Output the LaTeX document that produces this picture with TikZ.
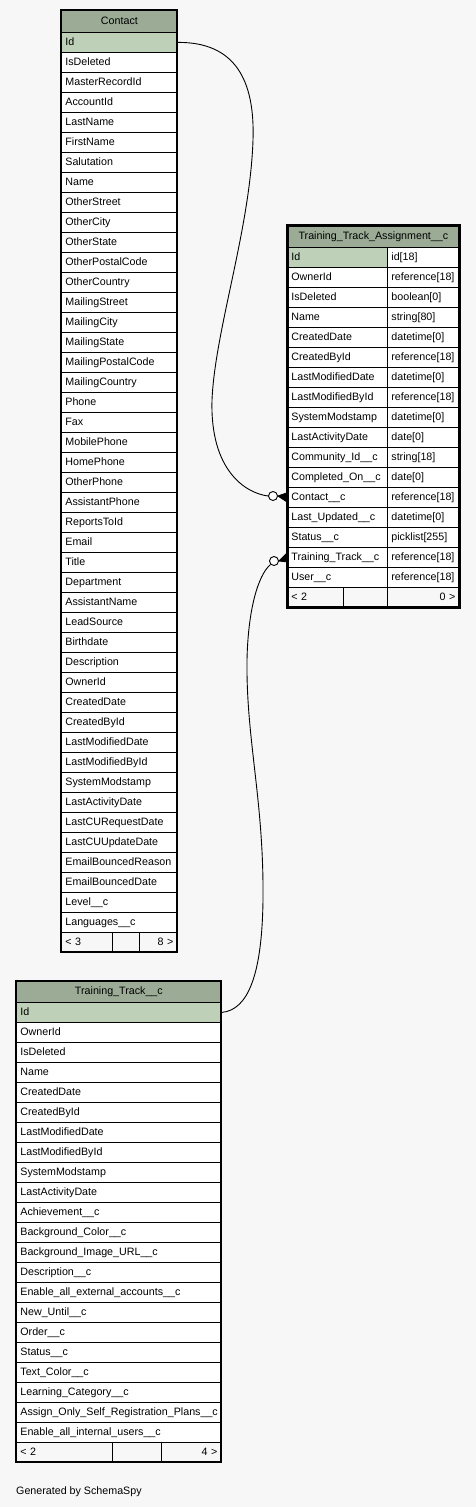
\documentclass[tikz,border=0pt]{standalone}
\usepackage{fontspec}
\setmainfont{Liberation Sans}
\def\fnt{\fontsize{10.7pt}{12pt}\selectfont}
\definecolor{bgc}{HTML}{F7F7F7}
\definecolor{hdr}{HTML}{9BAB96}
\definecolor{pk}{HTML}{BED1B8}
\tikzset{
  cell/.style={draw=black, line width=0.8pt, fill=white, anchor=north west,
    inner xsep=4pt, inner ysep=0pt, minimum height=20pt, align=left, font=\fnt,
    text height=8pt, text depth=2pt},
  pkcell/.style={cell, fill=pk},
  hdrcell/.style={cell, fill=hdr, align=center, minimum height=22pt},
  footcell/.style={cell, fill=bgc},
  rcell/.style={footcell, align=right},
  outer/.style={draw=black, line width=1.3pt},
  thickouter/.style={draw=black, line width=3pt},
  rel/.style={draw=black, line width=0.9pt},
  odot/.style={circle, draw=black, line width=0.9pt, fill=white, minimum size=9pt, inner sep=0pt},
  crow/.style={draw=black, fill=black, line width=0.9pt, line join=round}
}
\begin{document}
\begin{tikzpicture}[x=1pt,y=-1pt]
\fill[bgc] (0,0) rectangle (476,1507);
\useasboundingbox (0,0) rectangle (476,1507);

% ---------------- Contact ----------------
\node[hdrcell, text width=108pt] (chdr) at (61,10) {Contact};
\node[pkcell, text width=108pt] (c0) at (61,32) {Id};
\foreach \n [count=\i from 1] in {IsDeleted,MasterRecordId,AccountId,LastName,FirstName,Salutation,Name,OtherStreet,OtherCity,OtherState,OtherPostalCode,OtherCountry,MailingStreet,MailingCity,MailingState,MailingPostalCode,MailingCountry,Phone,Fax,MobilePhone,HomePhone,OtherPhone,AssistantPhone,ReportsToId,Email,Title,Department,AssistantName,LeadSource,Birthdate,Description,OwnerId,CreatedDate,CreatedById,LastModifiedDate,LastModifiedById,SystemModstamp,LastActivityDate,LastCURequestDate,LastCUUpdateDate,EmailBouncedReason,EmailBouncedDate,Level\_\_c,Languages\_\_c}
  \node[cell, text width=108pt] (c\i) at (61,{32+20*\i}) {\n};
\node[footcell, text width=43pt] (cf1) at (61,932) {< 3};
\node[footcell, text width=19pt] (cf2) at (112,932) {};
\node[rcell, text width=30pt] (cf3) at (139,932) {8 >};
\draw[outer] (61,10) rectangle (177,952);

% ---------------- Training_Track_Assignment__c ----------------
\node[hdrcell, text width=164pt] (thdr) at (287,225) {Training\_Track\_Assignment\_\_c};
\node[pkcell, text width=92pt] (tn0) at (287,247) {Id};
\node[cell, text width=64pt] (tt0) at (387,247) {id[18]};
\foreach \n/\t [count=\i from 1] in {OwnerId/reference[18],IsDeleted/boolean[0],Name/string[80],CreatedDate/datetime[0],CreatedById/reference[18],LastModifiedDate/datetime[0],LastModifiedById/reference[18],SystemModstamp/datetime[0],LastActivityDate/date[0],Community\_Id\_\_c/string[18],Completed\_On\_\_c/date[0],Contact\_\_c/reference[18],Last\_Updated\_\_c/datetime[0],Status\_\_c/picklist[255],Training\_Track\_\_c/reference[18],User\_\_c/reference[18]}
  {\node[cell, text width=92pt] (tn\i) at (287,{247+20*\i}) {\n};
   \node[cell, text width=64pt] (tt\i) at (387,{247+20*\i}) {\t};}
\node[footcell, text width=48pt] (tf1) at (287,587) {< 2};
\node[footcell, text width=36pt] (tf2) at (343,587) {};
\node[rcell, text width=64pt] (tf3) at (387,587) {0 >};
\draw[thickouter] (287,225) rectangle (459,607);

% ---------------- Training_Track__c ----------------
\node[hdrcell, text width=197pt, minimum height=21pt] (khdr) at (16,981) {Training\_Track\_\_c};
\node[pkcell, text width=197pt] (k0) at (16,1002) {Id};
\foreach \n [count=\i from 1] in {OwnerId,IsDeleted,Name,CreatedDate,CreatedById,LastModifiedDate,LastModifiedById,SystemModstamp,LastActivityDate,Achievement\_\_c,Background\_Color\_\_c,Background\_Image\_URL\_\_c,Description\_\_c,Enable\_all\_external\_accounts\_\_c,New\_Until\_\_c,Order\_\_c,Status\_\_c,Text\_Color\_\_c,Learning\_Category\_\_c,Assign\_Only\_Self\_Registration\_Plans\_\_c,Enable\_all\_internal\_users\_\_c}
  \node[cell, text width=197pt] (k\i) at (16,{1002+20*\i}) {\n};
\node[footcell, text width=88pt] (kf1) at (16,1442) {< 2};
\node[footcell, text width=41pt] (kf2) at (112,1442) {};
\node[rcell, text width=52pt] (kf3) at (161,1442) {4 >};
\draw[outer] (16,981) rectangle (221,1462);

% ---------------- relationships ----------------
\node[odot] (o1) at (273,496) {};
\draw[rel] (c0.east) .. controls (235,42) and (255,80) .. (253,140)
  .. controls (250,230) and (215,330) .. (212,400)
  .. controls (210,470) and (245,493) .. (o1.west);
\draw[crow] (o1.east) -- ([yshift=-4.5pt]tn12.west) -- ([yshift=4.5pt]tn12.west) -- cycle;

\node[odot] (o2) at (274,561) {};
\draw[rel] (k0.east) .. controls (248,1010) and (262,975) .. (263,900)
  .. controls (264,800) and (246,740) .. (247,660)
  .. controls (248,610) and (258,575) .. (o2.south west);
\draw[crow] (o2.east) -- ([yshift=-4.5pt]tn15.west) -- ([yshift=4.5pt]tn15.west) -- cycle;

\node[anchor=base west, inner sep=0pt, font=\fnt] (gen) at (16,1494) {Generated by SchemaSpy};
\end{tikzpicture}
\end{document}
